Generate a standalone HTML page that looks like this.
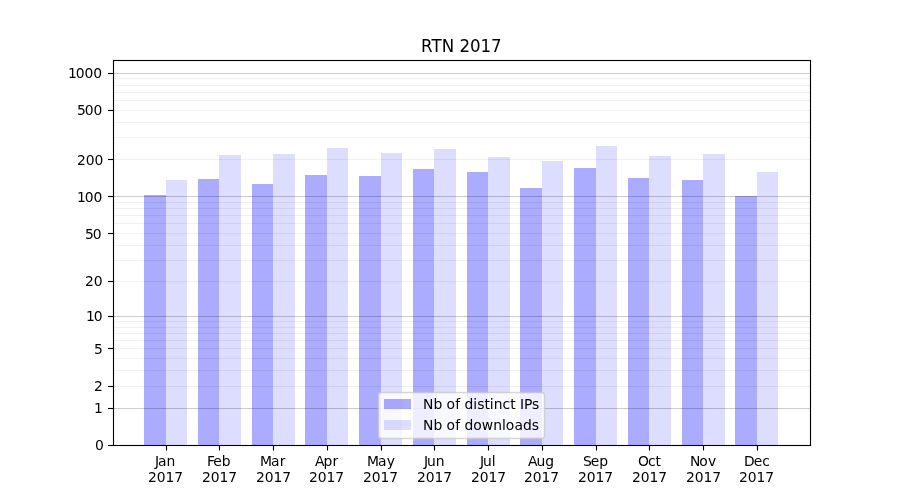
<!DOCTYPE html><html><head><meta charset="utf-8"><title>RTN 2017</title><style>html,body{margin:0;padding:0;background:#fff}svg{display:block}text{font-family:"DejaVu Sans","Liberation Sans",sans-serif;fill:#000}</style></head><body>
<svg width="900" height="500" viewBox="0 0 900 500">
<rect width="900" height="500" fill="#fff"/>
<g fill="#0000ff" shape-rendering="crispEdges">
<rect x="144.00" y="195.00" width="22.00" height="250.00" fill-opacity="0.33"/>
<rect x="166.00" y="180.00" width="21.00" height="265.00" fill-opacity="0.133"/>
<rect x="198.00" y="179.00" width="21.00" height="266.00" fill-opacity="0.33"/>
<rect x="219.00" y="155.00" width="22.00" height="290.00" fill-opacity="0.133"/>
<rect x="252.00" y="184.00" width="21.00" height="261.00" fill-opacity="0.33"/>
<rect x="273.00" y="154.00" width="22.00" height="291.00" fill-opacity="0.133"/>
<rect x="305.00" y="175.00" width="22.00" height="270.00" fill-opacity="0.33"/>
<rect x="327.00" y="148.00" width="21.00" height="297.00" fill-opacity="0.133"/>
<rect x="359.00" y="176.00" width="22.00" height="269.00" fill-opacity="0.33"/>
<rect x="381.00" y="153.00" width="21.00" height="292.00" fill-opacity="0.133"/>
<rect x="413.00" y="169.00" width="21.00" height="276.00" fill-opacity="0.33"/>
<rect x="434.00" y="149.00" width="22.00" height="296.00" fill-opacity="0.133"/>
<rect x="467.00" y="172.00" width="21.00" height="273.00" fill-opacity="0.33"/>
<rect x="488.00" y="157.00" width="22.00" height="288.00" fill-opacity="0.133"/>
<rect x="520.00" y="188.00" width="22.00" height="257.00" fill-opacity="0.33"/>
<rect x="542.00" y="161.00" width="21.00" height="284.00" fill-opacity="0.133"/>
<rect x="574.00" y="168.00" width="22.00" height="277.00" fill-opacity="0.33"/>
<rect x="596.00" y="146.00" width="21.00" height="299.00" fill-opacity="0.133"/>
<rect x="628.00" y="178.00" width="21.00" height="267.00" fill-opacity="0.33"/>
<rect x="649.00" y="156.00" width="22.00" height="289.00" fill-opacity="0.133"/>
<rect x="682.00" y="180.00" width="21.00" height="265.00" fill-opacity="0.33"/>
<rect x="703.00" y="154.00" width="22.00" height="291.00" fill-opacity="0.133"/>
<rect x="735.00" y="196.00" width="22.00" height="249.00" fill-opacity="0.33"/>
<rect x="757.00" y="172.00" width="21.00" height="273.00" fill-opacity="0.133"/>
</g>
<g stroke="#000" stroke-width="1.00">
<line x1="112.50" x2="810.00" y1="408.50" y2="408.50" stroke-opacity="0.20"/>
<line x1="112.50" x2="810.00" y1="386.50" y2="386.50" stroke-opacity="0.06"/>
<line x1="112.50" x2="810.00" y1="370.50" y2="370.50" stroke-opacity="0.06"/>
<line x1="112.50" x2="810.00" y1="358.50" y2="358.50" stroke-opacity="0.06"/>
<line x1="112.50" x2="810.00" y1="348.50" y2="348.50" stroke-opacity="0.06"/>
<line x1="112.50" x2="810.00" y1="340.50" y2="340.50" stroke-opacity="0.06"/>
<line x1="112.50" x2="810.00" y1="333.50" y2="333.50" stroke-opacity="0.06"/>
<line x1="112.50" x2="810.00" y1="327.50" y2="327.50" stroke-opacity="0.06"/>
<line x1="112.50" x2="810.00" y1="321.50" y2="321.50" stroke-opacity="0.06"/>
<line x1="112.50" x2="810.00" y1="316.50" y2="316.50" stroke-opacity="0.20"/>
<line x1="112.50" x2="810.00" y1="281.50" y2="281.50" stroke-opacity="0.06"/>
<line x1="112.50" x2="810.00" y1="260.50" y2="260.50" stroke-opacity="0.06"/>
<line x1="112.50" x2="810.00" y1="245.50" y2="245.50" stroke-opacity="0.06"/>
<line x1="112.50" x2="810.00" y1="233.50" y2="233.50" stroke-opacity="0.06"/>
<line x1="112.50" x2="810.00" y1="223.50" y2="223.50" stroke-opacity="0.06"/>
<line x1="112.50" x2="810.00" y1="215.50" y2="215.50" stroke-opacity="0.06"/>
<line x1="112.50" x2="810.00" y1="208.50" y2="208.50" stroke-opacity="0.06"/>
<line x1="112.50" x2="810.00" y1="202.50" y2="202.50" stroke-opacity="0.06"/>
<line x1="112.50" x2="810.00" y1="196.50" y2="196.50" stroke-opacity="0.20"/>
<line x1="112.50" x2="810.00" y1="159.50" y2="159.50" stroke-opacity="0.06"/>
<line x1="112.50" x2="810.00" y1="137.50" y2="137.50" stroke-opacity="0.06"/>
<line x1="112.50" x2="810.00" y1="122.50" y2="122.50" stroke-opacity="0.06"/>
<line x1="112.50" x2="810.00" y1="110.50" y2="110.50" stroke-opacity="0.06"/>
<line x1="112.50" x2="810.00" y1="100.50" y2="100.50" stroke-opacity="0.06"/>
<line x1="112.50" x2="810.00" y1="92.50" y2="92.50" stroke-opacity="0.06"/>
<line x1="112.50" x2="810.00" y1="85.50" y2="85.50" stroke-opacity="0.06"/>
<line x1="112.50" x2="810.00" y1="78.50" y2="78.50" stroke-opacity="0.06"/>
<line x1="112.50" x2="810.00" y1="73.50" y2="73.50" stroke-opacity="0.20"/>
</g>
<g stroke="#000" stroke-width="1.11">
<line x1="166.50" x2="166.50" y1="445.50" y2="450.50"/>
<line x1="219.50" x2="219.50" y1="445.50" y2="450.50"/>
<line x1="273.50" x2="273.50" y1="445.50" y2="450.50"/>
<line x1="327.50" x2="327.50" y1="445.50" y2="450.50"/>
<line x1="381.50" x2="381.50" y1="445.50" y2="450.50"/>
<line x1="434.50" x2="434.50" y1="445.50" y2="450.50"/>
<line x1="488.50" x2="488.50" y1="445.50" y2="450.50"/>
<line x1="542.50" x2="542.50" y1="445.50" y2="450.50"/>
<line x1="596.50" x2="596.50" y1="445.50" y2="450.50"/>
<line x1="649.50" x2="649.50" y1="445.50" y2="450.50"/>
<line x1="703.50" x2="703.50" y1="445.50" y2="450.50"/>
<line x1="757.50" x2="757.50" y1="445.50" y2="450.50"/>
<line x1="108.00" x2="113.00" y1="445.50" y2="445.50"/>
<line x1="108.00" x2="113.00" y1="408.50" y2="408.50"/>
<line x1="108.00" x2="113.00" y1="386.50" y2="386.50"/>
<line x1="108.00" x2="113.00" y1="348.50" y2="348.50"/>
<line x1="108.00" x2="113.00" y1="316.50" y2="316.50"/>
<line x1="108.00" x2="113.00" y1="281.50" y2="281.50"/>
<line x1="108.00" x2="113.00" y1="233.50" y2="233.50"/>
<line x1="108.00" x2="113.00" y1="196.50" y2="196.50"/>
<line x1="108.00" x2="113.00" y1="159.50" y2="159.50"/>
<line x1="108.00" x2="113.00" y1="110.50" y2="110.50"/>
<line x1="108.00" x2="113.00" y1="73.50" y2="73.50"/>
</g>
<rect x="113.50" y="60.50" width="697.00" height="385.00" fill="none" stroke="#000" stroke-width="1.11"/>
<g opacity="0.8"><rect x="378.5" y="392.5" width="166" height="46" rx="2.78" ry="2.78" fill="#fff" stroke="#ccc" stroke-width="1.39"/></g>
<rect x="384" y="399" width="27" height="10" fill="#00f" fill-opacity="0.33"/>
<rect x="384" y="420" width="27" height="10" fill="#00f" fill-opacity="0.133"/>
<g font-size="13.889px">
<text x="155 158.08 166.6" y="465.88">Jan</text>
<text transform="translate(0 481.83) scale(1 0.96)" x="148.04 156.86 165.43 174.26" y="0">2017</text>
<text transform="translate(0 465.88) scale(1 0.96)" x="206.9 213.37 221.65" y="0">Feb</text>
<text transform="translate(0 481.83) scale(1 0.96)" x="202.03 210.85 219.42 228.25" y="0">2017</text>
<text transform="translate(0 465.88) scale(1 0.96)" x="260.08 271.05 279.8" y="0">Mar</text>
<text transform="translate(0 481.83) scale(1 0.96)" x="256.01 264.83 273.4 282.23" y="0">2017</text>
<text transform="translate(0 465.88) scale(1 0.96)" x="314.9 323.39 332.45" y="0">Apr</text>
<text transform="translate(0 481.83) scale(1 0.96)" x="309 317.82 326.39 335.22" y="0">2017</text>
<text transform="translate(0 465.88) scale(1 0.96)" x="367.06 378.02 386.77" y="0">May</text>
<text x="362.99 371.81 380.38 389.21" y="481.83">2017</text>
<text transform="translate(0 465.88) scale(1 1.04)" x="424.04 427.11 435.66" y="0">Jun</text>
<text transform="translate(0 481.83) scale(1 0.96)" x="416.97 425.79 434.61 443.19" y="0">2017</text>
<text transform="translate(0 465.88) scale(1 1.04)" x="479.99 483.07 491.87" y="0">Jul</text>
<text transform="translate(0 481.83) scale(1 0.96)" x="470.96 479.78 488.6 497.18" y="0">2017</text>
<text x="528.05 536.54 545.33" y="465.88">Aug</text>
<text transform="translate(0 481.83) scale(1 0.96)" x="523.94 532.76 541.58 550.16" y="0">2017</text>
<text transform="translate(0 465.88) scale(1 0.96)" x="583.01 590.81 599.36" y="0">Sep</text>
<text transform="translate(0 481.83) scale(1 0.96)" x="577.93 586.75 595.57 604.15" y="0">2017</text>
<text x="638.08 647.99 655.38" y="465.88">Oct</text>
<text transform="translate(0 481.83) scale(1 0.96)" x="631.92 640.74 649.56 658.14" y="0">2017</text>
<text transform="translate(0 465.88) scale(1 1.04)" x="690.01 699.14 708.12" y="0">Nov</text>
<text transform="translate(0 481.83) scale(1 0.96)" x="685.9 694.72 703.54 712.37" y="0">2017</text>
<text x="744.12 753.79 762.34" y="465.88">Dec</text>
<text transform="translate(0 481.83) scale(1 0.96)" x="738.89 747.71 756.53 765.36" y="0">2017</text>
<text transform="translate(0 449.68) scale(1 1.04)" x="94.95" y="0">0</text>
<text transform="translate(0 412.72) scale(1 0.96)" x="93.95" y="0">1</text>
<text transform="translate(0 390.87) scale(1 0.96)" x="93.95" y="0">2</text>
<text transform="translate(0 353.51) scale(1 0.96)" x="93.95" y="0">5</text>
<text x="86.12 93.69" y="320.84">10</text>
<text transform="translate(0 285.59) scale(1 1.04)" x="85.12 93.69" y="0">20</text>
<text transform="translate(0 238.57) scale(1 1.04)" x="85.12 92.69" y="0">50</text>
<text x="77.05 84.86 93.44" y="201.74">100</text>
<text transform="translate(0 164.65) scale(1 1.04)" x="77.05 85.86 94.44" y="0">200</text>
<text transform="translate(0 114.63) scale(1 1.04)" x="77.05 84.86 93.44" y="0">500</text>
<text x="67.97 75.78 84.61 93.19" y="77.73">1000</text>
<text transform="translate(0 51.87) scale(1 1.05)" x="420.91 431.51 441.68 454.14 459.45 470.04 480.38 490.98" y="0" font-size="16.667px">RTN 2017</text>
<text x="422.99 433.61 442.41 446.58 455.32 460.21 464.61 473.18 477.27 484.51 489.69 493.8 502.6 510.22 515.41 520.07 523.91 532.04" y="408.63">Nb of distinct IPs</text>
<text transform="translate(0 429.81) scale(1 0.96)" x="422.99 433.61 442.41 446.58 455.32 460.21 464.61 473.18 481.66 493.26 502.05 505.66 514.4 522.9 531.71" y="0">Nb of downloads</text>
</g>
</svg></body></html>
